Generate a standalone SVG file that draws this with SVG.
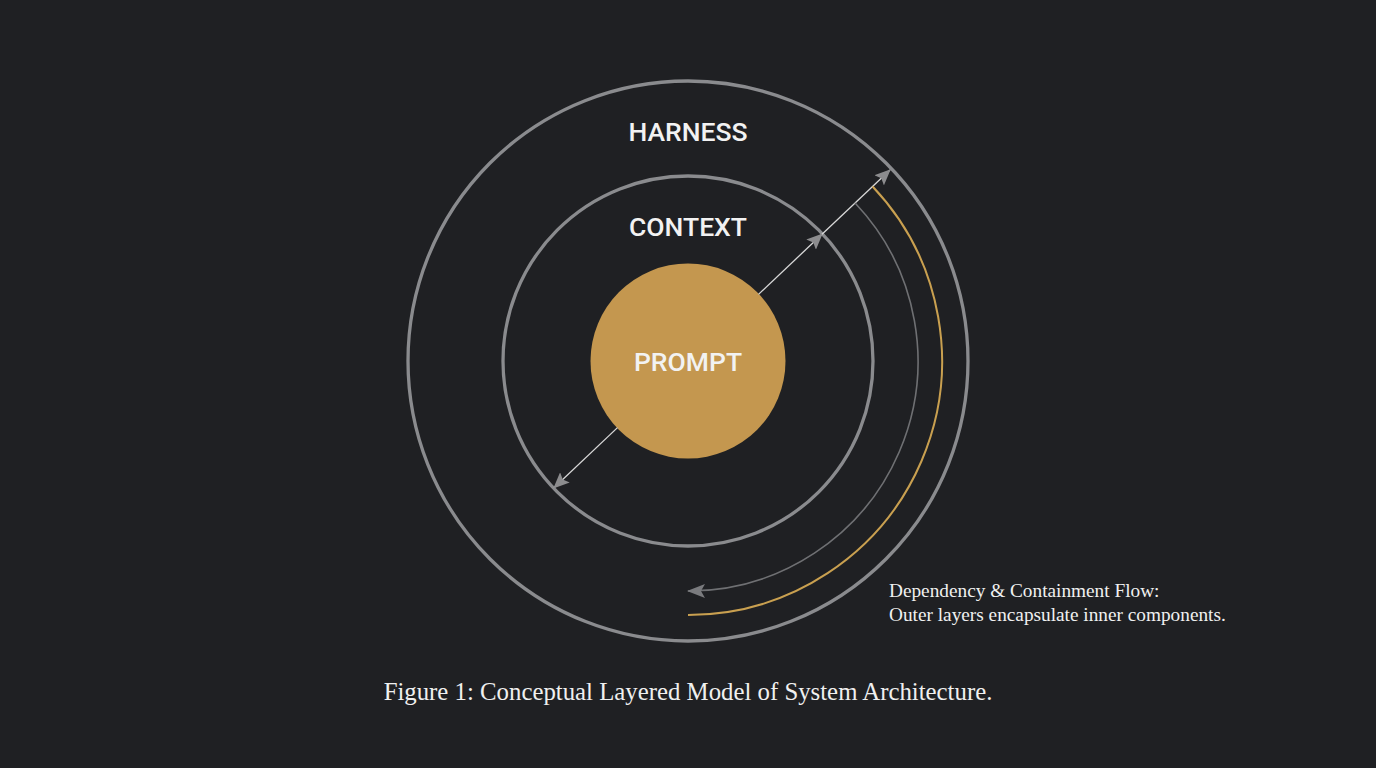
<svg xmlns="http://www.w3.org/2000/svg" width="1376" height="768" viewBox="0 0 1376 768">
<style>
.ring{fill:none;stroke:#8a8b8e;stroke-width:3.3}
.lbl{font-family:Roboto,"Liberation Sans",sans-serif;font-size:26.5px;font-weight:500;fill:#f2f2f2;text-anchor:middle}
.ser{font-family:"Liberation Serif",serif;fill:#f0f0f0}
.ptr{fill:none;stroke:#d8d8d8;stroke-width:1.3}
</style>
<defs>
<marker id="ah" markerUnits="userSpaceOnUse" markerWidth="16" markerHeight="14" viewBox="0 0 16 14" refX="15" refY="7" orient="auto">
<path d="M0,0 L16,7 L0,14 L3,7 Z" fill="#8c8c8e"/>
</marker>
<marker id="ah2" markerUnits="userSpaceOnUse" markerWidth="18" markerHeight="14" viewBox="0 0 18 14" refX="17" refY="7" orient="auto">
<path d="M0,0 L18,7 L0,14 L4,7 Z" fill="#7a7b7e"/>
</marker>
</defs>
<rect width="1376" height="768" fill="#1f2023"/>
<g id="harness">
<circle class="ring" cx="688" cy="361" r="280"/>
<text class="lbl" x="688" y="141">HARNESS</text>
</g>
<g id="context">
<circle class="ring" cx="688" cy="361" r="185"/>
<text class="lbl" x="688" y="236">CONTEXT</text>
</g>
<g id="prompt">
<circle cx="688" cy="361" r="97.5" fill="#c4974f"/>
<text class="lbl" x="688" y="371" fill="#fff">PROMPT</text>
</g>
<g id="connectors">
<line class="ptr" x1="758.5" y1="294.4" x2="822" y2="234.3" marker-end="url(#ah)"/>
<line class="ptr" x1="822" y1="234.3" x2="890" y2="170" marker-end="url(#ah)"/>
<line class="ptr" x1="617.5" y1="427.6" x2="554" y2="487.7" marker-end="url(#ah)"/>
<path d="M855.1,203 A230,230 0 0 1 688,591" fill="none" stroke="#6f7073" stroke-width="1.6" marker-end="url(#ah2)"/>
<path d="M872.6,186.5 A254,254 0 0 1 688,615" fill="none" stroke="#c9a050" stroke-width="2"/>
</g>
<g id="note">
<text class="ser" x="889" y="597" font-size="19.3">Dependency &amp; Containment Flow:</text>
<text class="ser" x="889" y="621" font-size="19.3">Outer layers encapsulate inner components.</text>
</g>
<g id="caption">
<text class="ser" x="688" y="700" font-size="24.8" text-anchor="middle">Figure 1: Conceptual Layered Model of System Architecture.</text>
</g>
</svg>
